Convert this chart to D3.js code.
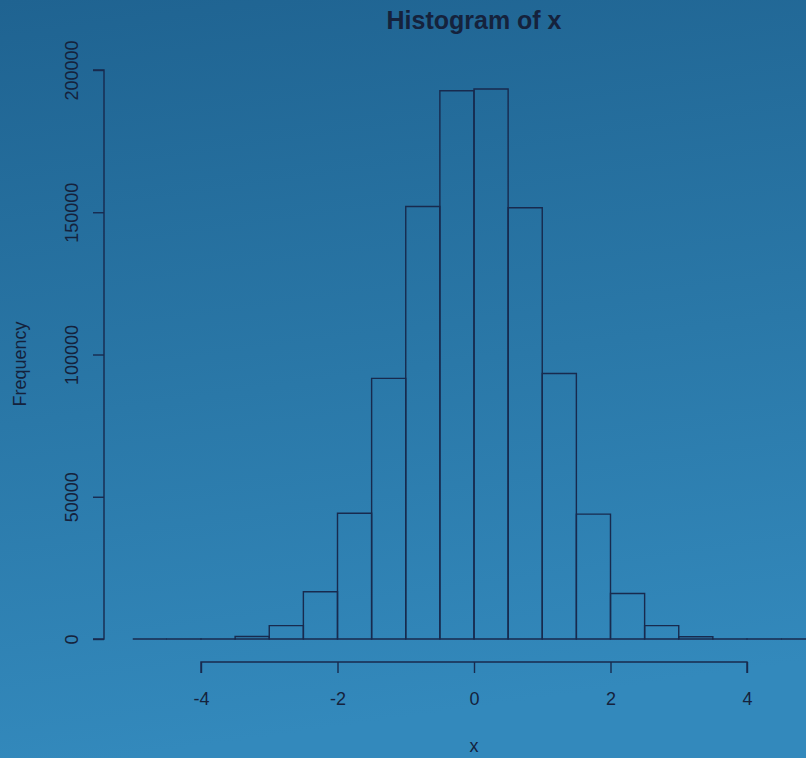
<!DOCTYPE html>
<html>
<head>
<meta charset="utf-8">
<script src="https://cdn.jsdelivr.net/npm/d3@7"></script>
<style>
  html, body { margin: 0; padding: 0; background: #2a78a8; }
  svg { display: block; }
  text { font-family: "Liberation Sans", Arial, sans-serif; fill: #15223c; }
</style>
</head>
<body>
<svg id="chart" width="806" height="758"></svg>
<script>
// Data: histogram of x, bins of width 0.5 from -5 to 5
const binStarts = [-5, -4.5, -4, -3.5, -3, -2.5, -2, -1.5, -1, -0.5, 0, 0.5, 1, 1.5, 2, 2.5, 3, 3.5, 4, 4.5];
const binWidth = 0.5;
const counts = [0, 3, 30, 900, 4700, 16600, 44200, 91600, 152000, 192700, 193300, 151600, 93300, 43900, 16000, 4700, 800, 30, 3, 0];
const xTicks = [-4, -2, 0, 2, 4];
const yTicks = [0, 50000, 100000, 150000, 200000];
const titleText = "Histogram of x";
const xLabel = "x";
const yLabel = "Frequency";

const svg = d3.select("#chart");
const W = 806, H = 758;

// background gradient
const defs = svg.append("defs");
const grad = defs.append("linearGradient").attr("id", "bg")
  .attr("x1", "0%").attr("y1", "0%").attr("x2", "15%").attr("y2", "100%");
grad.append("stop").attr("offset", "0%").attr("stop-color", "#1f6391");
grad.append("stop").attr("offset", "55%").attr("stop-color", "#2a78a8");
grad.append("stop").attr("offset", "100%").attr("stop-color", "#3389bc");
svg.append("rect").attr("width", W).attr("height", H).attr("fill", "url(#bg)");

const x = d3.scaleLinear().domain([-4, 4]).range([201, 747]);
const y = d3.scaleLinear().domain([0, 200000]).range([639, 70]);
const ink = "#182a4e";
const txt = "#15223c";

// bars (drawn as closed paths so zero-count bins still show on the baseline)
svg.append("g").selectAll("path")
  .data(binStarts.map((s, i) => ({ s, c: counts[i] })))
  .join("path")
  .attr("d", d => {
    const x0 = x(d.s), x1 = x(d.s + binWidth), y0 = y(0), y1 = y(d.c);
    return `M${x0},${y0}V${y1}H${x1}V${y0}Z`;
  })
  .attr("fill", "none")
  .attr("stroke", ink)
  .attr("stroke-width", 1.4);

// x axis (R style, offset below)
const xAxis = d3.axisBottom(x).tickValues(xTicks).tickSize(11).tickPadding(19)
  .tickFormat(d => d < 0 ? "-" + Math.abs(d) : String(d));
const gx = svg.append("g").attr("transform", "translate(0,662)").call(xAxis);
gx.select(".domain").attr("stroke", ink).attr("stroke-width", 1.4)
  .attr("d", `M${x(-4)},11V0H${x(4)}V11`);
gx.selectAll(".tick line").attr("stroke", ink).attr("stroke-width", 1.4);
gx.selectAll(".tick text").style("font-size", "18px").attr("fill", txt)
  .style("font-family", "Liberation Sans, Arial, sans-serif");

// y axis
const yAxis = d3.axisLeft(y).tickValues(yTicks).tickSize(11).tickFormat(d3.format("d"));
const gy = svg.append("g").attr("transform", "translate(104,0)").call(yAxis);
gy.select(".domain").attr("stroke", ink).attr("stroke-width", 1.4)
  .attr("d", `M-11,${y(200000)}H0V${y(0)}H-11`);
gy.selectAll(".tick line").attr("stroke", ink).attr("stroke-width", 1.4);
gy.selectAll(".tick text")
  .style("font-size", "18px").attr("fill", txt)
  .style("font-family", "Liberation Sans, Arial, sans-serif")
  .attr("x", null).attr("dy", null)
  .attr("text-anchor", "middle")
  .attr("transform", "translate(-32,0) rotate(-90)")
  .attr("dy", "0.35em");

// title
svg.append("text").attr("x", 474).attr("y", 29).attr("text-anchor", "middle")
  .style("font-size", "25px").style("font-weight", "bold").text(titleText);
// axis labels
svg.append("text").attr("x", 474).attr("y", 752).attr("text-anchor", "middle")
  .style("font-size", "18px").text(xLabel);
svg.append("text").attr("transform", "translate(26,364) rotate(-90)")
  .attr("text-anchor", "middle").style("font-size", "18px").text(yLabel);
</script>
</body>
</html>
